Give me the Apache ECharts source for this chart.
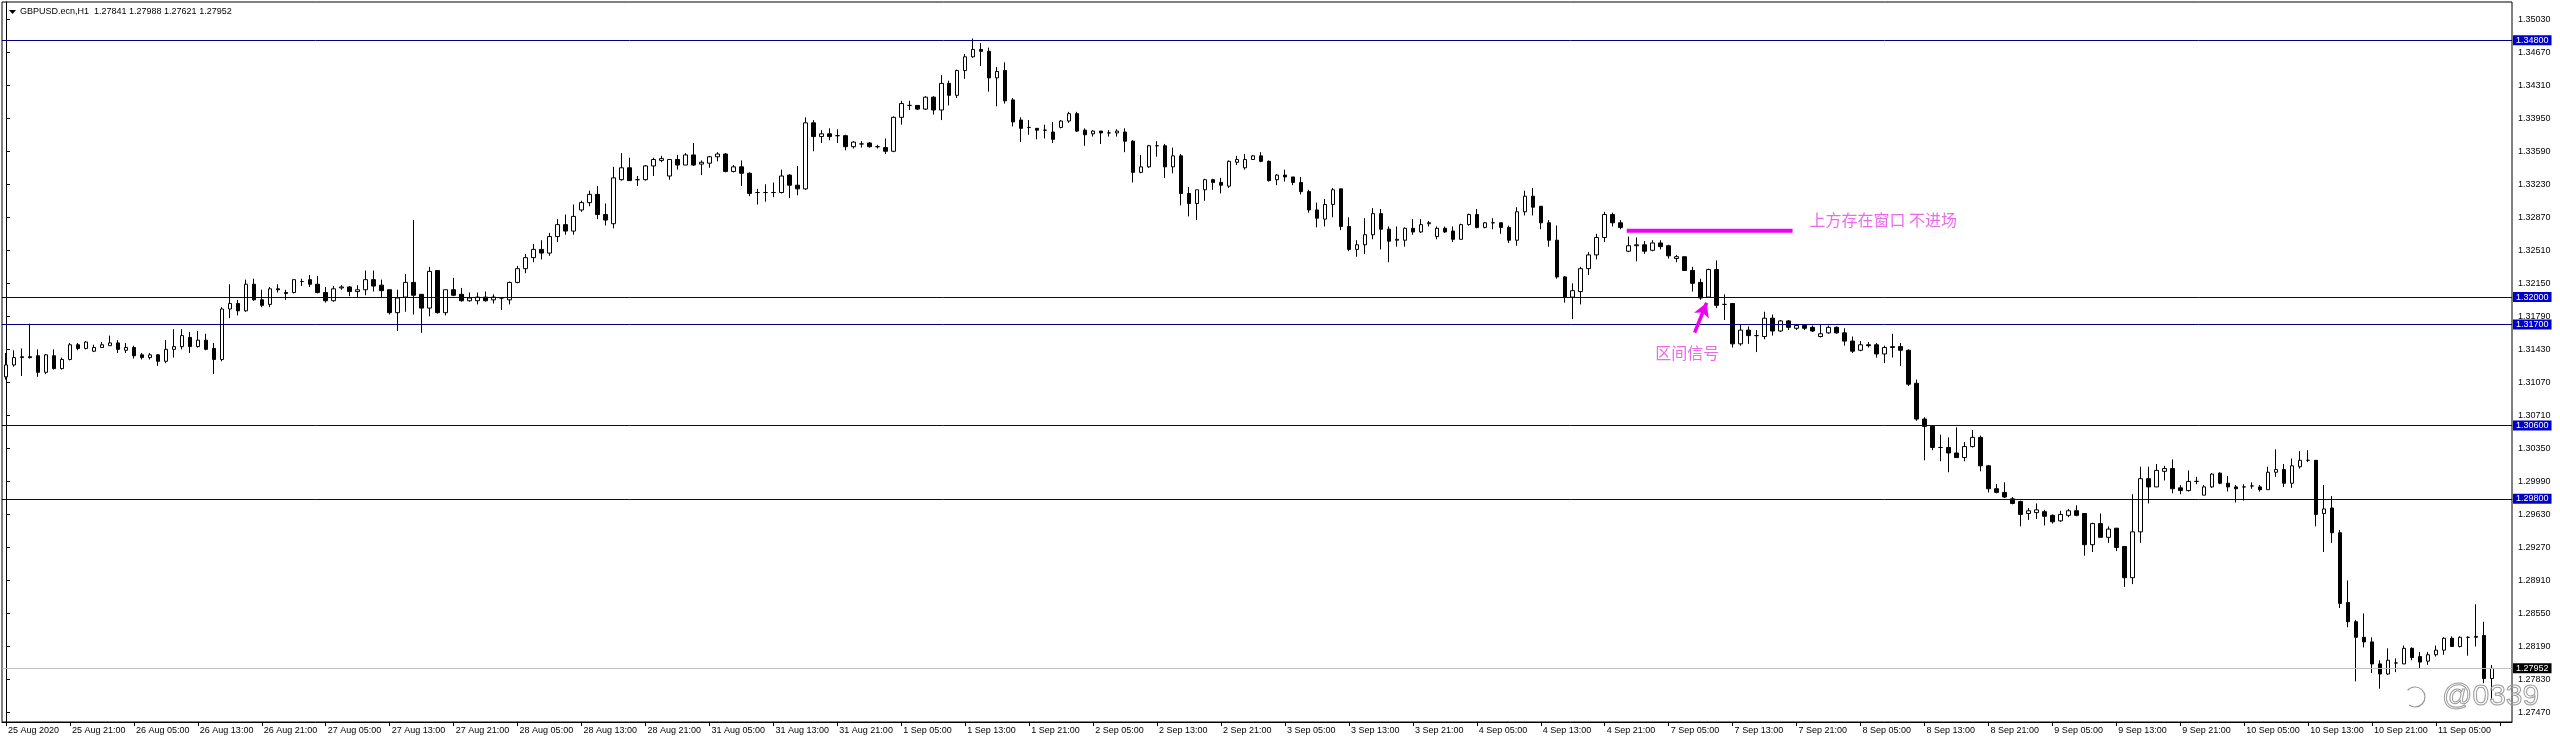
<!DOCTYPE html>
<html><head><meta charset="utf-8">
<script src="https://cdn.jsdelivr.net/npm/echarts@6/dist/echarts.min.js"></script>
<style>html,body{margin:0;padding:0;background:#fff;overflow:hidden}#c{width:2560px;height:739px;}</style>
</head><body><div id="c"></div>
<script>
// GBPUSD.ecn H1, 25 Aug 2020 13:00 .. 11 Sep 2020 12:00 (312 hourly bars)
const opens=[
1.3113,1.3126,1.3134,1.3135,1.3136,1.3118,1.3136,1.3122,1.3132,1.3148,
1.3144,1.3141,1.3145,1.3147,1.3150,1.3142,1.3145,1.3137,1.3134,1.3137,
1.3130,1.3143,1.3146,1.3156,1.3146,1.3153,1.3144,1.3132,1.3187,1.3193,
1.3185,1.3214,1.3197,1.3192,1.3209,1.3205,1.3205,1.3217,1.3219,1.3214,
1.3205,1.3196,1.3210,1.3211,1.3206,1.3208,1.3219,1.3213,1.3208,1.3183,
1.3200,1.3216,1.3203,1.3188,1.3229,1.3183,1.3208,1.3203,1.3196,1.3196,
1.3200,1.3197,1.3199,1.3197,1.3216,1.3231,1.3243,1.3252,1.3248,1.3266,
1.3279,1.3272,1.3295,1.3303,1.3312,1.3290,1.3280,1.3328,1.3341,1.3328,
1.3328,1.3343,1.3349,1.3332,1.3350,1.3344,1.3355,1.3345,1.3346,1.3353,
1.3356,1.3337,1.3342,1.3335,1.3314,1.3314,1.3314,1.3314,1.3333,1.3322,
1.3318,1.3390,1.3375,1.3378,1.3376,1.3376,1.3364,1.3367,1.3368,1.3364,
1.3363,1.3359,1.3396,1.3409,1.3409,1.3405,1.3418,1.3404,1.3433,1.3420,
1.3447,1.3462,1.3470,1.3468,1.3439,1.3447,1.3415,1.3393,1.3385,1.3384,
1.3382,1.3380,1.3385,1.3392,1.3400,1.3382,1.3378,1.3381,1.3379,1.3379,
1.3380,1.3370,1.3336,1.3342,1.3365,1.3365,1.3342,1.3354,1.3313,1.3302,
1.3317,1.3328,1.3325,1.3321,1.3347,1.3341,1.3350,1.3354,1.3348,1.3328,
1.3333,1.3331,1.3325,1.3315,1.3295,1.3285,1.3301,1.3318,1.3277,1.3252,
1.3257,1.3268,1.3291,1.3274,1.3262,1.3262,1.3275,1.3271,1.3280,1.3266,
1.3275,1.3272,1.3263,1.3279,1.3290,1.3276,1.3281,1.3281,1.3276,1.3262,
1.3293,1.3310,1.3299,1.3281,1.3262,1.3222,1.3200,1.3206,1.3231,1.3246,
1.3265,1.3290,1.3281,1.3250,1.3256,1.3257,1.3251,1.3259,1.3256,1.3242,
1.3244,1.3229,1.3216,1.3200,1.3230,1.3192,1.3193,1.3149,1.3164,1.3158,
1.3157,1.3177,1.3163,1.3174,1.3166,1.3169,1.3167,1.3157,1.3161,1.3167,
1.3161,1.3152,1.3142,1.3148,1.3148,1.3138,1.3145,1.3146,1.3142,1.3106,
1.3067,1.3059,1.3036,1.3036,1.3030,1.3025,1.3037,1.3047,1.3016,1.2991,
1.2987,1.2980,1.2977,1.2964,1.2965,1.2966,1.2962,1.2956,1.2962,1.2967,
1.2964,1.2930,1.2953,1.2938,1.2948,1.2928,1.2894,1.2944,1.3002,1.2993,
1.3010,1.3013,1.2992,1.2989,1.2999,1.2984,1.2993,1.3008,1.2997,1.2993,
1.2993,1.2994,1.2993,1.2990,1.3009,1.3012,1.2997,1.3015,1.3022,1.3022,
1.2964,1.2970,1.2943,1.2867,1.2846,1.2829,1.2824,1.2800,1.2789,1.2801,
1.2800,1.2817,1.2808,1.2803,1.2810,1.2815,1.2828,1.2819,1.2829,1.2829,
1.2831,1.27841];
const closes=[
1.3126,1.3134,1.3135,1.3134,1.3118,1.3137,1.3122,1.3132,1.3148,1.3144,
1.3151,1.3145,1.3148,1.3150,1.3143,1.3145,1.3136,1.3134,1.3137,1.3130,
1.3143,1.3146,1.3158,1.3146,1.3153,1.3143,1.3132,1.3187,1.3193,1.3185,
1.3214,1.3197,1.3191,1.3209,1.3208,1.3204,1.3219,1.3217,1.3214,1.3205,
1.3196,1.3209,1.3211,1.3206,1.3208,1.3219,1.3212,1.3207,1.3183,1.3199,
1.3216,1.3202,1.3188,1.3228,1.3183,1.3208,1.3202,1.3196,1.3199,1.3200,
1.3196,1.3200,1.3199,1.3216,1.3231,1.3243,1.3252,1.3248,1.3266,1.3279,
1.3272,1.3288,1.3303,1.3312,1.3290,1.3284,1.3330,1.3341,1.3327,1.3328,
1.3343,1.3350,1.3351,1.3350,1.3344,1.3355,1.3344,1.3347,1.3353,1.3356,
1.3337,1.3342,1.3335,1.3313,1.3314,1.3314,1.3314,1.3332,1.3322,1.3318,
1.3390,1.3375,1.3378,1.3375,1.3376,1.3364,1.3369,1.3367,1.3364,1.3364,
1.3359,1.3396,1.3411,1.3409,1.3405,1.3418,1.3404,1.3433,1.3420,1.3447,
1.3462,1.3470,1.3468,1.3439,1.3446,1.3414,1.3391,1.3384,1.3385,1.3382,
1.3382,1.3372,1.3392,1.3400,1.3381,1.3377,1.3381,1.3379,1.3379,1.3381,
1.3370,1.3336,1.3342,1.3365,1.3365,1.3342,1.3354,1.3313,1.3302,1.3317,
1.3328,1.3325,1.3322,1.3348,1.3350,1.3350,1.3354,1.3348,1.3327,1.3333,
1.3331,1.3325,1.3315,1.3295,1.3286,1.3301,1.3317,1.3277,1.3252,1.3257,
1.3268,1.3291,1.3274,1.3261,1.3263,1.3275,1.3271,1.3279,1.3281,1.3275,
1.3271,1.3263,1.3279,1.3290,1.3276,1.3281,1.3281,1.3276,1.3262,1.3293,
1.3310,1.3298,1.3281,1.3262,1.3222,1.3200,1.3207,1.3231,1.3246,1.3265,
1.3290,1.3281,1.3276,1.3256,1.3257,1.3250,1.3259,1.3255,1.3245,1.3244,
1.3229,1.3215,1.3199,1.3230,1.3191,1.3192,1.3149,1.3164,1.3158,1.3158,
1.3177,1.3163,1.3174,1.3167,1.3169,1.3166,1.3163,1.3160,1.3167,1.3161,
1.3152,1.3141,1.3148,1.3147,1.3138,1.3145,1.3146,1.3142,1.3105,1.3067,
1.3059,1.3036,1.3036,1.3030,1.3025,1.3037,1.3047,1.3016,1.2991,1.2987,
1.2982,1.2975,1.2963,1.2967,1.2968,1.2961,1.2955,1.2963,1.2967,1.2962,
1.2930,1.2953,1.2938,1.2947,1.2927,1.2894,1.2944,1.3002,1.2993,1.3011,
1.3013,1.2991,1.2989,1.2999,1.2999,1.2993,1.3007,1.2997,1.2993,1.2991,
1.2993,1.2994,1.2990,1.3009,1.3012,1.2997,1.3016,1.3022,1.3022,1.2963,
1.2969,1.2943,1.2866,1.2846,1.2829,1.2824,1.2800,1.2789,1.2804,1.2801,
1.2817,1.2807,1.2802,1.2810,1.2815,1.2828,1.2819,1.2829,1.2829,1.2830,
1.2784,1.27952];
const lows=[
1.3110,1.3124,1.3114,1.3133,1.3113,1.3116,1.3121,1.3121,1.3131,1.3142,
1.3143,1.3140,1.3145,1.3147,1.3139,1.3139,1.3133,1.3132,1.3132,1.3125,
1.3128,1.3134,1.3143,1.3139,1.3145,1.3142,1.3116,1.3130,1.3177,1.3180,
1.3184,1.3196,1.3189,1.3189,1.3205,1.3197,1.3204,1.3212,1.3211,1.3204,
1.3194,1.3195,1.3208,1.3201,1.3199,1.3202,1.3206,1.3200,1.3181,1.3163,
1.3184,1.3181,1.3161,1.3179,1.3182,1.3180,1.3201,1.3195,1.3195,1.3192,
1.3195,1.3193,1.3186,1.3192,1.3215,1.3226,1.3238,1.3241,1.3245,1.3260,
1.3268,1.3268,1.3293,1.3299,1.3285,1.3278,1.3275,1.3327,1.3327,1.3321,
1.3327,1.3332,1.3347,1.3328,1.3339,1.3344,1.3343,1.3333,1.3341,1.3348,
1.3336,1.3336,1.3321,1.3310,1.3301,1.3304,1.3309,1.3313,1.3308,1.3311,
1.3317,1.3359,1.3368,1.3371,1.3368,1.3360,1.3362,1.3363,1.3363,1.3362,
1.3356,1.3358,1.3388,1.3404,1.3404,1.3404,1.3399,1.3393,1.3409,1.3417,
1.3438,1.3461,1.3452,1.3424,1.3408,1.3411,1.3386,1.3369,1.3377,1.3372,
1.3373,1.3368,1.3384,1.3390,1.3380,1.3365,1.3375,1.3367,1.3375,1.3375,
1.3358,1.3325,1.3335,1.3341,1.3353,1.3330,1.3335,1.3300,1.3288,1.3284,
1.3305,1.3317,1.3313,1.3319,1.3344,1.3339,1.3350,1.3347,1.3326,1.3322,
1.3326,1.3322,1.3312,1.3292,1.3276,1.3277,1.3287,1.3273,1.3250,1.3244,
1.3247,1.3263,1.3252,1.3238,1.3255,1.3255,1.3268,1.3270,1.3277,1.3263,
1.3270,1.3260,1.3263,1.3278,1.3275,1.3275,1.3274,1.3269,1.3259,1.3256,
1.3289,1.3289,1.3274,1.3255,1.3220,1.3194,1.3176,1.3192,1.3224,1.3241,
1.3260,1.3277,1.3274,1.3249,1.3239,1.3247,1.3250,1.3252,1.3242,1.3238,
1.3229,1.3206,1.3197,1.3200,1.3188,1.3175,1.3145,1.3147,1.3149,1.3140,
1.3154,1.3158,1.3162,1.3164,1.3164,1.3164,1.3162,1.3156,1.3160,1.3160,
1.3147,1.3139,1.3141,1.3145,1.3134,1.3128,1.3134,1.3125,1.3103,1.3065,
1.3022,1.3033,1.3021,1.3009,1.3025,1.3021,1.3036,1.3010,1.2987,1.2986,
1.2981,1.2974,1.2950,1.2957,1.2958,1.2951,1.2953,1.2955,1.2960,1.2961,
1.2918,1.2922,1.2938,1.2932,1.2923,1.2884,1.2887,1.2932,1.2975,1.2993,
1.3000,1.2986,1.2985,1.2988,1.2996,1.2984,1.2992,1.2996,1.2988,1.2976,
1.2978,1.2991,1.2988,1.2990,1.3004,1.2993,1.2992,1.3013,1.3020,1.2950,
1.2922,1.2932,1.2861,1.2840,1.2781,1.2818,1.2790,1.2773,1.2788,1.2791,
1.2800,1.2804,1.2795,1.2799,1.2808,1.2810,1.2819,1.2818,1.2809,1.2819,
1.2779,1.27621];
const highs=[
1.3139,1.3142,1.3144,1.3171,1.3143,1.3138,1.3143,1.3134,1.3150,1.3150,
1.3152,1.3148,1.3151,1.3158,1.3153,1.3150,1.3147,1.3139,1.3139,1.3138,
1.3153,1.3165,1.3165,1.3162,1.3163,1.3160,1.3150,1.3189,1.3214,1.3197,
1.3219,1.3220,1.3208,1.3211,1.3214,1.3208,1.3219,1.3220,1.3224,1.3223,
1.3211,1.3212,1.3213,1.3212,1.3213,1.3229,1.3229,1.3219,1.3208,1.3208,
1.3225,1.3284,1.3203,1.3233,1.3229,1.3208,1.3221,1.3210,1.3205,1.3205,
1.3206,1.3203,1.3200,1.3217,1.3234,1.3247,1.3258,1.3262,1.3270,1.3285,
1.3290,1.3301,1.3305,1.3316,1.3321,1.3302,1.3342,1.3357,1.3352,1.3332,
1.3344,1.3352,1.3354,1.3350,1.3355,1.3357,1.3368,1.3349,1.3354,1.3358,
1.3357,1.3344,1.3349,1.3336,1.3318,1.3323,1.3325,1.3339,1.3334,1.3343,
1.3396,1.3393,1.3382,1.3384,1.3383,1.3377,1.3370,1.3370,1.3369,1.3366,
1.3373,1.3397,1.3414,1.3414,1.3409,1.3419,1.3419,1.3442,1.3436,1.3448,
1.3465,1.3482,1.3477,1.3472,1.3451,1.3456,1.3417,1.3396,1.3393,1.3384,
1.3388,1.3391,1.3393,1.3402,1.3402,1.3384,1.3382,1.3381,1.3382,1.3383,
1.3384,1.3371,1.3355,1.3366,1.3370,1.3367,1.3363,1.3356,1.3320,1.3317,
1.3329,1.3329,1.3330,1.3349,1.3354,1.3356,1.3355,1.3358,1.3349,1.3334,
1.3339,1.3331,1.3331,1.3317,1.3303,1.3307,1.3319,1.3318,1.3287,1.3262,
1.3286,1.3297,1.3296,1.3277,1.3277,1.3276,1.3285,1.3285,1.3283,1.3277,
1.3277,1.3277,1.3280,1.3291,1.3296,1.3282,1.3286,1.3281,1.3278,1.3298,
1.3316,1.3319,1.3299,1.3284,1.3278,1.3223,1.3215,1.3233,1.3249,1.3269,
1.3293,1.3292,1.3284,1.3266,1.3265,1.3261,1.3262,1.3262,1.3257,1.3246,
1.3244,1.3233,1.3220,1.3231,1.3240,1.3203,1.3193,1.3170,1.3168,1.3164,
1.3184,1.3181,1.3175,1.3175,1.3170,1.3170,1.3169,1.3170,1.3169,1.3168,
1.3166,1.3157,1.3152,1.3151,1.3150,1.3147,1.3160,1.3150,1.3143,1.3110,
1.3069,1.3059,1.3050,1.3047,1.3058,1.3042,1.3055,1.3049,1.3017,1.2996,
1.2998,1.2982,1.2978,1.2970,1.2975,1.2968,1.2963,1.2967,1.2969,1.2973,
1.2964,1.2954,1.2964,1.2950,1.2948,1.2928,1.2985,1.3015,1.3015,1.3018,
1.3016,1.3023,1.2995,1.3011,1.3004,1.2995,1.3008,1.3009,1.3005,1.2995,
1.2996,1.2998,1.2995,1.3015,1.3034,1.3018,1.3024,1.3032,1.3033,1.3022,
1.2995,1.2983,1.2946,1.2891,1.2848,1.2855,1.2829,1.2804,1.2817,1.2806,
1.2820,1.2818,1.2813,1.2813,1.2820,1.2829,1.2830,1.2830,1.2830,1.2865,
1.2846,1.27988];
// time-axis labels, one every 8 bars
const timeTickLabels=["25 Aug 2020","25 Aug 21:00","26 Aug 05:00","26 Aug 13:00","26 Aug 21:00","27 Aug 05:00","27 Aug 13:00","27 Aug 21:00","28 Aug 05:00","28 Aug 13:00","28 Aug 21:00","31 Aug 05:00","31 Aug 13:00","31 Aug 21:00","1 Sep 05:00","1 Sep 13:00","1 Sep 21:00","2 Sep 05:00","2 Sep 13:00","2 Sep 21:00","3 Sep 05:00","3 Sep 13:00","3 Sep 21:00","4 Sep 05:00","4 Sep 13:00","4 Sep 21:00","7 Sep 05:00","7 Sep 13:00","7 Sep 21:00","8 Sep 05:00","8 Sep 13:00","8 Sep 21:00","9 Sep 05:00","9 Sep 13:00","9 Sep 21:00","10 Sep 05:00","10 Sep 13:00","10 Sep 21:00","11 Sep 05:00"];
const priceTicks=[1.35030,1.34670,1.34310,1.33950,1.33590,1.33230,1.32870,1.32510,1.32150,1.31790,1.31430,1.31070,1.30710,1.30350,1.29990,1.29630,1.29270,1.28910,1.28550,1.28190,1.27830,1.27470];
const levelLines=[1.34800,1.32000,1.31700,1.30600,1.29800];
const lastPrice=1.27952;
const headerText="GBPUSD.ecn,H1  1.27841 1.27988 1.27621 1.27952";
// annotations (bar index, price)
const gapLineX=[202.75,223.5], gapLineY=1.32723;
const arrowFrom=[211.25,1.31612], arrowTo=[212.75,1.31938];
const notes=[{text:"上方存在窗口 不进场",x:225.6,y:1.32839},{text:"区间信号",x:206.3,y:1.31394}];

const NCAT=314;
const cats=Array.from({length:NCAT},(_,i)=>String(i));
const candles=opens.map((o,i)=>[o,closes[i],lows[i],highs[i]]);
const FONT='Liberation Sans';
const PINK='#f000f0';

const chart=echarts.init(document.getElementById('c'),null,{renderer:'canvas'});
const levelData=levelLines.map(v=>({yAxis:v,lineStyle:{color:'#000080',width:1,type:'solid'},
  label:{backgroundColor:'#0000c8',color:'#fff'}}));
levelData.push({yAxis:lastPrice,lineStyle:{color:'#c0c0c0',width:1,type:'solid'},
  label:{backgroundColor:'#000',color:'#fff'}});

chart.setOption({
  animation:false,
  backgroundColor:'#fff',
  grid:{left:2,right:48,top:2,bottom:17,show:true,borderColor:'#000',borderWidth:1,backgroundColor:'#fff'},
  xAxis:[{
    type:'category',data:cats,boundaryGap:true,
    axisLine:{show:true,lineStyle:{color:'#000',width:1}},
    axisTick:{show:true,interval:7,alignWithLabel:true,length:4,lineStyle:{color:'#000'}},
    axisLabel:{interval:7,align:'left',padding:[0,0,0,2],margin:4,fontSize:9,fontFamily:FONT,color:'#000',
      formatter:(v,idx)=>timeTickLabels[Math.round(idx/8)]||''},
    splitLine:{show:false}
  },{
    type:'value',min:-0.5,max:NCAT-0.5,show:false
  }],
  yAxis:{
    type:'value',position:'right',min:1.273666,max:1.352176,
    axisLine:{show:true,lineStyle:{color:'#000',width:1}},
    axisTick:{show:true,customValues:priceTicks,length:4,lineStyle:{color:'#000'}},
    axisLabel:{customValues:priceTicks,formatter:v=>v.toFixed(5),fontSize:9,fontFamily:FONT,color:'#000',margin:6},
    splitLine:{show:false}
  },
  series:[{
    type:'candlestick',data:candles,barWidth:4,
    itemStyle:{color:'#fff',color0:'#000',borderColor:'#000',borderColor0:'#000',borderWidth:1},
    markLine:{silent:true,symbol:'none',animation:false,precision:5,
      label:{show:true,position:'end',distance:1,formatter:p=>Number(p.value).toFixed(5),fontSize:9,fontFamily:FONT,padding:[1,3,0,3]},
      data:levelData}
  },{
    type:'line',xAxisIndex:1,yAxisIndex:0,symbol:'none',silent:true,
    data:[[gapLineX[0],gapLineY],[gapLineX[1],gapLineY]],
    lineStyle:{color:PINK,width:4},
    markLine:{silent:true,precision:5,symbol:['none','arrow'],symbolSize:[12,14],
      lineStyle:{color:PINK,width:3.5,type:'solid'},label:{show:false},
      data:[[{coord:arrowFrom},{coord:arrowTo}]]}
  },{
    type:'scatter',xAxisIndex:1,yAxisIndex:0,silent:true,symbolSize:0.1,itemStyle:{color:'rgba(0,0,0,0)'},
    data:notes.map(n=>({value:[n.x,n.y],name:n.text})),
    label:{show:true,position:'right',distance:0,formatter:'{b}',color:'#e545e5',fontSize:16,fontFamily:'Noto Sans CJK SC'}
  }],
  graphic:[
    {type:'polygon',shape:{points:[[9,10],[16,10],[12.5,14]]},style:{fill:'#000'}},
    {type:'text',x:20,y:12,style:{text:headerText,font:'9px "Liberation Sans"',fill:'#000',verticalAlign:'middle'}},
    {type:'text',x:2442,y:697,z:50,style:{text:'@0339',font:'30px "Liberation Sans"',fill:'rgba(255,255,255,0)',stroke:'#9a9a9a',lineWidth:1,verticalAlign:'middle'}},
    {type:'arc',shape:{cx:2415,cy:697,r:10,startAngle:-2.4,endAngle:2.2},style:{fill:'none',stroke:'#9a9a9a',lineWidth:1.2},z:50}
  ]
});
</script></body></html>
